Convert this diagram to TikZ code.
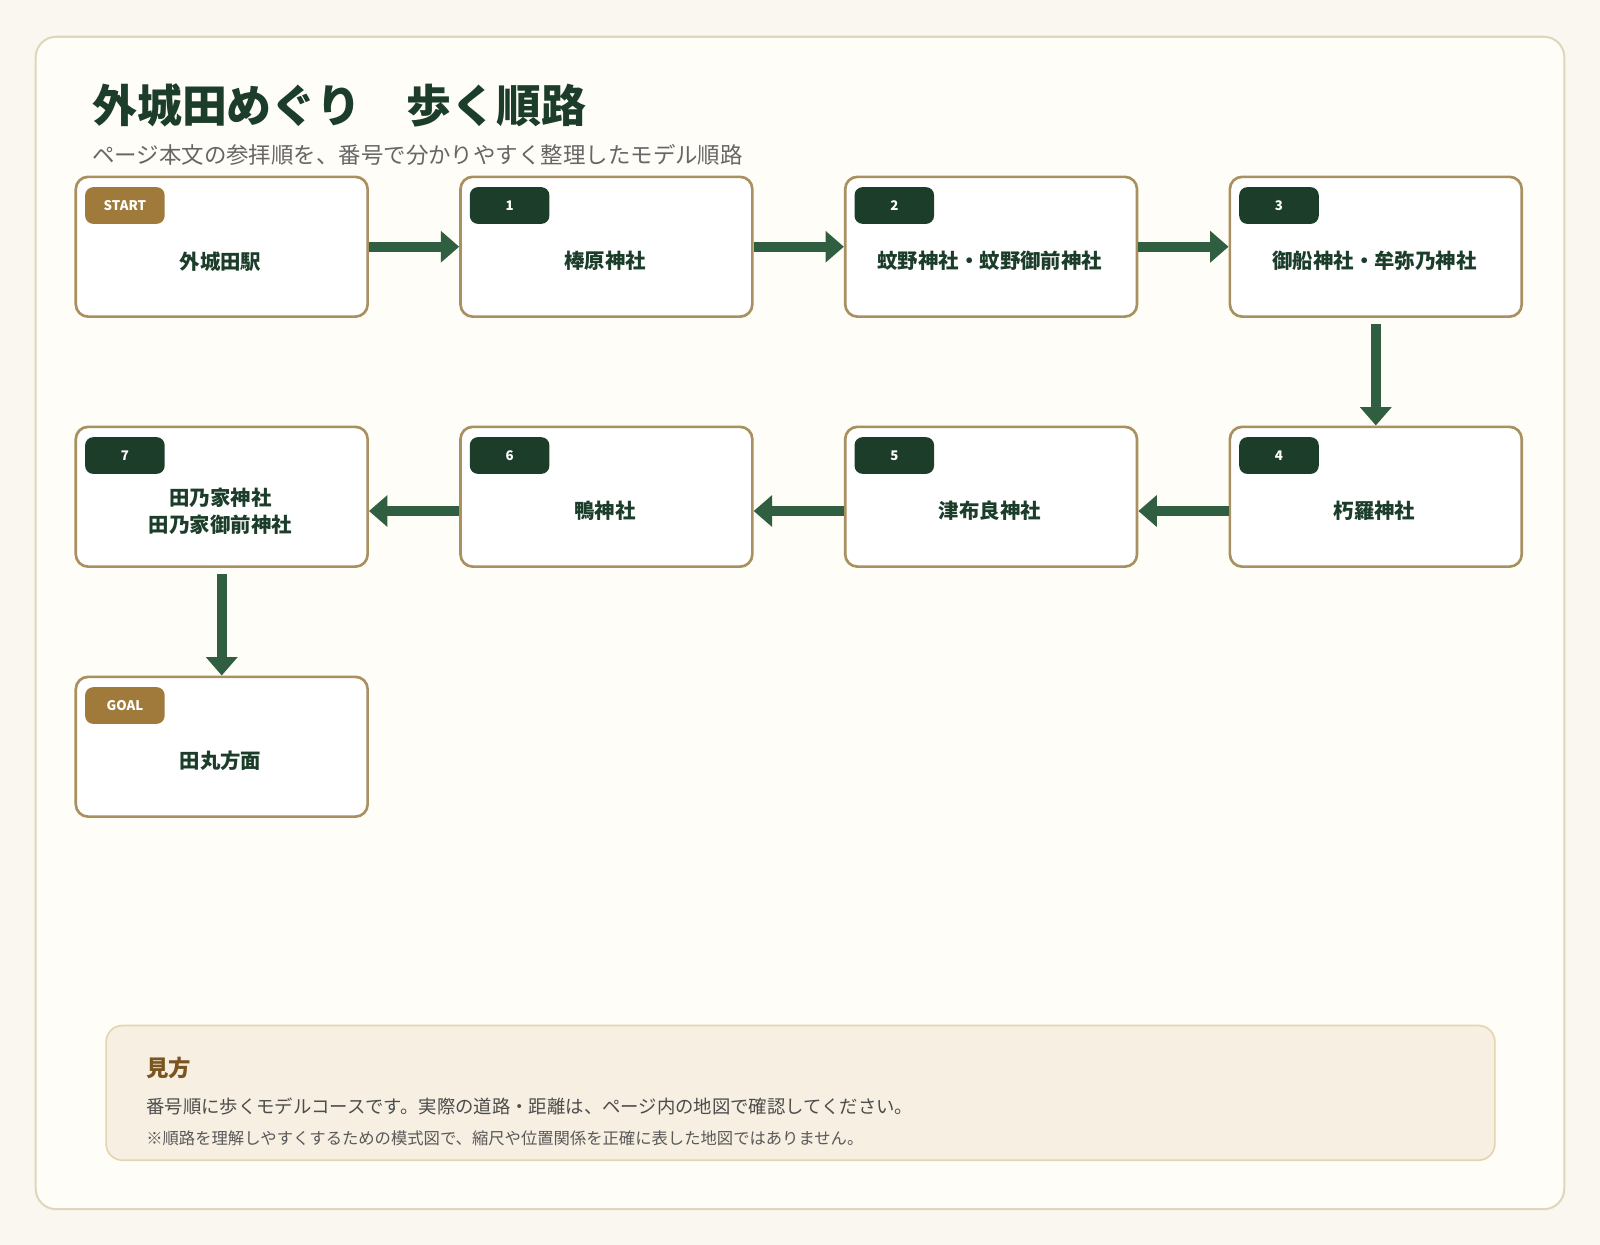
\documentclass[tikz,border=0pt]{standalone}
\usepackage{fontspec}
\setmainfont{Noto Sans CJK JP}
\usetikzlibrary{arrows.meta}
\definecolor{bgc}{HTML}{F9F7EF}
\definecolor{card}{HTML}{FFFDF7}
\definecolor{cardb}{HTML}{E0D6BD}
\definecolor{dg}{HTML}{1B3D2A}
\definecolor{ag}{HTML}{2F5E40}
\definecolor{bb}{HTML}{A89060}
\definecolor{gold}{HTML}{A07A3A}
\definecolor{notef}{HTML}{F6EFE2}
\definecolor{noteb}{HTML}{E3D5B0}
\definecolor{brn}{HTML}{7A5520}
\begin{document}
\begin{tikzpicture}[x=0.5pt,y=-0.5pt,
 box/.style={draw=bb,line width=1.3pt,fill=white,rounded corners=6pt,minimum width=143pt,minimum height=68.5pt,inner sep=0pt},
 badge/.style={rounded corners=4pt,minimum width=39pt,minimum height=18pt,inner sep=0pt,text=white,font=\fontsize{6.5}{7}\selectfont\bfseries},
 lbl/.style={text=dg,font=\fontsize{10}{13}\selectfont\bfseries,align=center},
 arr/.style={draw=ag,line width=5pt,-{Triangle[length=9pt,width=15pt]}}]
\useasboundingbox (0,0) rectangle (1568,1220);
\fill[bgc] (0,0) rectangle (1568,1220);
\draw[cardb,fill=card,line width=1pt,rounded corners=10pt] (35,36) rectangle (1533,1185);
\node[anchor=base west,text=dg,font=\fontsize{22}{26}\selectfont\bfseries,inner sep=0pt] (title) at (90,120) {外城田めぐり　歩く順路};
\node[anchor=base west,text=black!60,font=\fontsize{11}{13}\selectfont,inner sep=0pt] (sub) at (90,160) {ページ本文の参拝順を、番号で分かりやすく整理したモデル順路};
% boxes
\foreach \n/\x/\y/\b/\c/\t in {
 s/73/172/START/gold/外城田駅,
 a/450/172/1/dg/棒原神社,
 b/827/172/2/dg/蚊野神社・蚊野御前神社,
 c/1204/172/3/dg/御船神社・牟弥乃神社,
 d/1204/417/4/dg/朽羅神社,
 e/827/417/5/dg/津布良神社,
 f/450/417/6/dg/鴨神社,
 g/73/417/7/dg/{田乃家神社\\田乃家御前神社},
 h/73/662/GOAL/gold/田丸方面}{
 \node[box,anchor=north west] (\n) at (\x,\y) {};
 \node[badge,fill=\c,anchor=north west] (\n b) at (\x+10,\y+11) {\b};
 \node[lbl] (\n t) at (\x+143,\y+84) {\t};
}
\draw[arr] (s.east) -- (a.west);
\draw[arr] (a.east) -- (b.west);
\draw[arr] (b.east) -- (c.west);
\draw[arr,shorten <=3pt] (c.south) -- (d.north);
\draw[arr] ([yshift=-7pt]d.west) -- ([yshift=-7pt]e.east);
\draw[arr] ([yshift=-7pt]e.west) -- ([yshift=-7pt]f.east);
\draw[arr] ([yshift=-7pt]f.west) -- ([yshift=-7pt]g.east);
\draw[arr,shorten <=3pt] (g.south) -- (h.north);
% note
\draw[noteb,fill=notef,line width=0.8pt,rounded corners=8pt] (104,1005) rectangle (1465,1137);
\node[anchor=base west,inner sep=0pt,text=brn,font=\fontsize{11}{13}\selectfont\bfseries] (n1) at (143,1055) {見方};
\node[anchor=base west,inner sep=0pt,text=black!70,font=\fontsize{9}{11}\selectfont] (n2) at (143,1091) {番号順に歩くモデルコースです。実際の道路・距離は、ページ内の地図で確認してください。};
\node[anchor=base west,inner sep=0pt,text=black!65,font=\fontsize{8}{10}\selectfont] (n3) at (143,1122) {※順路を理解しやすくするための模式図で、縮尺や位置関係を正確に表した地図ではありません。};
\end{tikzpicture}
\end{document}
